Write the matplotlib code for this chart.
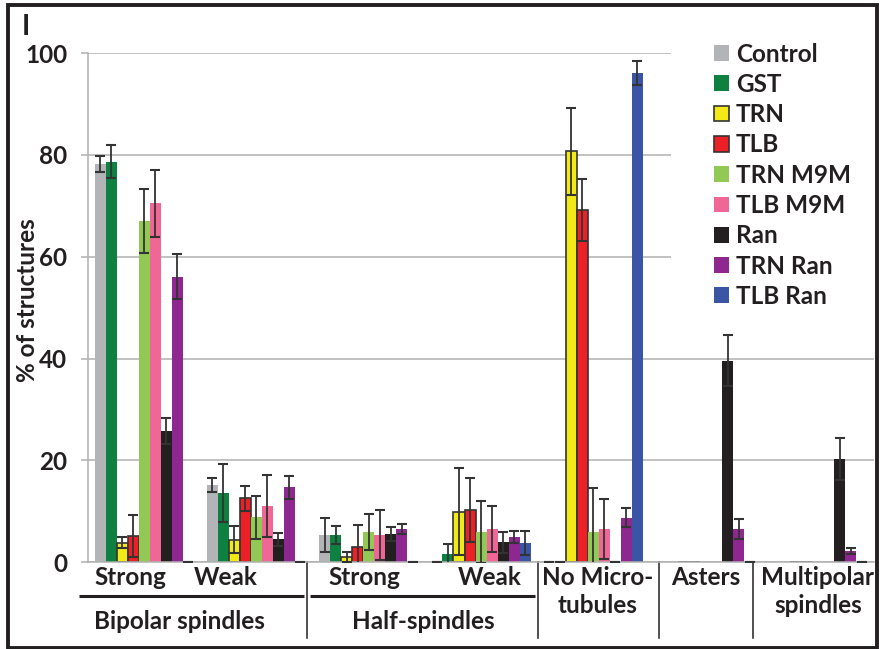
import matplotlib
matplotlib.use("Agg")
import matplotlib.pyplot as plt
import matplotlib.transforms as mtransforms
from matplotlib.patches import Rectangle
import numpy as np

plt.rcParams["font.family"] = ["Lato", "DejaVu Sans"]
plt.rcParams["font.weight"] = "bold"

# categories (7 groups along the x axis)
categories = ["Bipolar strong", "Bipolar weak", "Half strong", "Half weak",
              "No microtubules", "Asters", "Multipolar"]

series_names = ["Control", "GST", "TRN", "TLB", "TRN M9M", "TLB M9M",
                "Ran", "TRN Ran", "TLB Ran"]

# % of structures
control = [78.2, 15.1, 5.3, 0, 0, 0, 0]
gst = [78.7, 13.5, 5.3, 1.5, 0, 0, 0]
trn = [3.8, 4.4, 1.0, 9.9, 80.7, 0, 0]
tlb = [5.1, 12.5, 2.9, 10.3, 69.1, 0, 0]
trn_m9m = [67.1, 8.8, 5.9, 5.9, 5.9, 0, 0]
tlb_m9m = [70.5, 11.0, 5.3, 6.5, 6.5, 0, 0]
ran = [25.8, 4.5, 5.5, 3.9, 0, 39.6, 20.2]
trn_ran = [56.1, 14.7, 6.5, 4.9, 8.7, 6.5, 2.2]
tlb_ran = [0, 0, 0, 3.7, 96.1, 0, 0]

# error bars (nan = no error bar drawn)
nan = np.nan
control_err = [1.6, 1.4, 3.4, 0, 0, nan, nan]
gst_err = [3.2, 5.7, 1.7, 2.0, 0, nan, nan]
trn_err = [1.1, 2.6, 0.9, 8.6, 8.6, nan, nan]
tlb_err = [4.2, 2.4, 4.4, 6.3, 6.1, nan, nan]
trn_m9m_err = [6.3, 4.2, 3.5, 6.0, 8.6, nan, nan]
tlb_m9m_err = [6.6, 6.1, 4.9, 4.5, 5.9, nan, nan]
ran_err = [2.6, 1.3, 1.3, 2.1, 0, 5.1, 4.1]
trn_ran_err = [4.4, 2.3, 1.0, 1.2, 1.9, 1.9, 0.65]
tlb_ran_err = [0, 0, 0, 2.4, 2.4, 0, 0]

values = [control, gst, trn, tlb, trn_m9m, tlb_m9m, ran, trn_ran, tlb_ran]
errors = [control_err, gst_err, trn_err, tlb_err, trn_m9m_err, tlb_m9m_err,
          ran_err, trn_ran_err, tlb_ran_err]

colors = ["#b3b4b8", "#0e8140", "#f3e917", "#ee2027", "#92c954", "#f06695",
          "#231f20", "#8e278f", "#3a55a4"]
outlined = {"TRN", "TLB"}

FS = 17.5
DARK = "#231f20"
GRID = "#b0b0b0"

fig = plt.figure(figsize=(8.86, 6.49), dpi=100)
ax = fig.add_axes([0.0993, 0.134, 0.8872, 0.784])

x = np.arange(len(categories))
bar_w = 0.098
for i, (name, vals, errs, col) in enumerate(zip(series_names, values, errors, colors)):
    pos = x + (i - 4) * bar_w
    edge = "#333333" if name in outlined else "none"
    ax.bar(pos, vals, bar_w, color=col, edgecolor=edge, linewidth=1.2,
           label=name, zorder=2)
    errs = np.array(errs, dtype=float)
    keep = ~np.isnan(errs)
    ax.errorbar(pos[keep], np.array(vals)[keep], yerr=errs[keep], fmt="none",
                ecolor="#333333", elinewidth=1.3, capsize=3.3, capthick=1.5,
                zorder=3)

ax.set_xlim(-0.5, 6.5)
ax.set_ylim(0, 100)
ax.set_yticks([0, 20, 40, 60, 80, 100])
ax.set_axisbelow(True)
ax.yaxis.grid(True, color=GRID, linewidth=1.1)
for side in ["top", "right"]:
    ax.spines[side].set_visible(False)
for side in ["left", "bottom"]:
    ax.spines[side].set_color(GRID)
    ax.spines[side].set_linewidth(1.1)
ax.set_xticks([])
ax.tick_params(axis="y", length=5, width=1.1, color=GRID, pad=10,
               labelsize=FS, labelcolor=DARK)
for lab in ax.get_yticklabels():
    lab.set_fontweight("bold")

ax.set_ylabel("% of structures", fontsize=FS, fontweight="bold", color=DARK)
ax.yaxis.set_label_coords(-0.062, 0.515)

# white box behind the legend hides the grid
ax.add_patch(Rectangle((0.742, 0.475), 0.26, 0.56, transform=ax.transAxes,
                       facecolor="white", edgecolor="none", zorder=1,
                       clip_on=False))
leg = ax.legend(loc="upper left", bbox_to_anchor=(0.796, 1.021), frameon=False,
                fontsize=FS, handlelength=0.62, handleheight=0.62,
                handletextpad=0.3, labelspacing=0.3, borderpad=0,
                borderaxespad=0)
for t in leg.get_texts():
    t.set_color(DARK)
    t.set_fontweight("bold")

# category annotations under the axis
tr = mtransforms.blended_transform_factory(ax.transData, ax.transAxes)
first_row = [("Strong", -0.126), ("Weak", 0.729), ("Strong", 1.958),
             ("Weak", 3.08), ("No Micro-", 4.04), ("Asters", 5.0),
             ("Multipolar", 6.0)]
for txt, xp in first_row:
    ax.text(xp, -0.0295, txt, transform=tr, ha="center", va="center",
            fontsize=FS, fontweight="bold", color=DARK)
second_row = [("tubules", 4.04), ("spindles", 6.0)]
for txt, xp in second_row:
    ax.text(xp, -0.0864, txt, transform=tr, ha="center", va="center",
            fontsize=FS, fontweight="bold", color=DARK)
group_labels = [("Bipolar spindles", 0.31), ("Half-spindles", 2.49)]
for txt, xp in group_labels:
    ax.text(xp, -0.116, txt, transform=tr, ha="center", va="center",
            fontsize=FS, fontweight="bold", color=DARK)

for x0, x1 in [(-0.58, 1.423), (1.477, 3.48)]:
    ax.plot([x0, x1], [-0.067, -0.067], transform=tr, color=DARK,
            linewidth=2.2, clip_on=False, solid_capstyle="butt")
for xs in [1.447, 3.507, 4.585, 5.422]:
    ax.plot([xs, xs], [0, -0.149], transform=tr, color=DARK, linewidth=1.1,
            clip_on=False)

# panel letter and frame
fig.text(0.0248, 0.978, "I", fontsize=20, fontweight="bold", color=DARK,
         va="top", ha="left")
fig.add_artist(Rectangle((7.5 / 886, 1.5 / 649), 869 / 886, 643 / 649,
                         transform=fig.transFigure, facecolor="none",
                         edgecolor=DARK, linewidth=2.8))

fig.savefig("out.png", dpi=100)
